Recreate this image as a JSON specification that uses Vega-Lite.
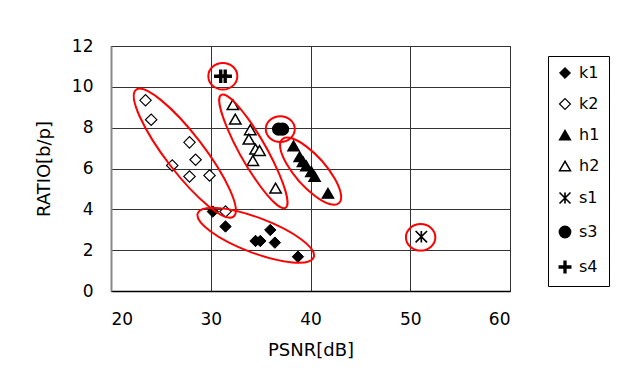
{
  "$schema": "https://vega.github.io/schema/vega-lite/v6.json",
  "width": 399,
  "height": 245,
  "autosize": "none",
  "padding": {"left": 111, "top": 46, "right": 110, "bottom": 100},
  "background": "white",
  "datasets": {
    "pts": [
      {"series": "k1", "psnr": 30.21, "ratio": 3.89},
      {"series": "k1", "psnr": 31.48, "ratio": 3.16},
      {"series": "k1", "psnr": 34.49, "ratio": 2.45},
      {"series": "k1", "psnr": 34.97, "ratio": 2.45},
      {"series": "k1", "psnr": 35.97, "ratio": 2.99},
      {"series": "k1", "psnr": 36.43, "ratio": 2.37},
      {"series": "k1", "psnr": 38.74, "ratio": 1.68},
      {"series": "k2", "psnr": 23.46, "ratio": 9.34},
      {"series": "k2", "psnr": 24.03, "ratio": 8.39},
      {"series": "k2", "psnr": 27.87, "ratio": 7.28},
      {"series": "k2", "psnr": 28.48, "ratio": 6.43},
      {"series": "k2", "psnr": 26.14, "ratio": 6.15},
      {"series": "k2", "psnr": 27.87, "ratio": 5.61},
      {"series": "k2", "psnr": 29.88, "ratio": 5.66},
      {"series": "k2", "psnr": 31.48, "ratio": 3.89},
      {"series": "h1", "psnr": 38.30, "ratio": 7.11},
      {"series": "h1", "psnr": 38.91, "ratio": 6.58},
      {"series": "h1", "psnr": 39.24, "ratio": 6.34},
      {"series": "h1", "psnr": 39.58, "ratio": 6.13},
      {"series": "h1", "psnr": 40.08, "ratio": 5.85},
      {"series": "h1", "psnr": 40.41, "ratio": 5.61},
      {"series": "h1", "psnr": 41.75, "ratio": 4.79},
      {"series": "h2", "psnr": 32.22, "ratio": 9.13},
      {"series": "h2", "psnr": 32.46, "ratio": 8.42},
      {"series": "h2", "psnr": 33.96, "ratio": 7.90},
      {"series": "h2", "psnr": 33.82, "ratio": 7.44},
      {"series": "h2", "psnr": 34.49, "ratio": 6.95},
      {"series": "h2", "psnr": 34.89, "ratio": 6.88},
      {"series": "h2", "psnr": 34.22, "ratio": 6.39},
      {"series": "h2", "psnr": 36.50, "ratio": 5.04},
      {"series": "s1", "psnr": 51.11, "ratio": 2.66},
      {"series": "s3", "psnr": 36.8, "ratio": 7.93},
      {"series": "s3", "psnr": 37.2, "ratio": 7.93},
      {"series": "s4", "psnr": 31.0, "ratio": 10.52},
      {"series": "s4", "psnr": 31.45, "ratio": 10.52}
    ],
    "ell": [
      {"id": "E1", "psnr": 27.40, "ratio": 6.75},
      {"id": "E2", "psnr": 34.51, "ratio": 2.73},
      {"id": "E3", "psnr": 34.27, "ratio": 6.84},
      {"id": "E4", "psnr": 40.01, "ratio": 5.87},
      {"id": "E5", "psnr": 36.97, "ratio": 7.93},
      {"id": "E6", "psnr": 31.21, "ratio": 10.52},
      {"id": "E7", "psnr": 51.04, "ratio": 2.63}
    ]
  },
  "layer": [
    {
      "data": {"name": "pts"},
      "mark": {"type": "point", "filled": true, "size": 130, "opacity": 1},
      "encoding": {
        "x": {
          "field": "psnr", "type": "quantitative",
          "scale": {"domain": [20, 60], "nice": false, "zero": false},
          "axis": {
            "values": [20, 30, 40, 50, 60],
            "title": "PSNR[dB]",
            "ticks": false,
            "grid": true, "gridColor": "#333", "gridOpacity": 1, "gridWidth": 1,
            "domainColor": "#000", "domainWidth": 1.5,
            "labelFontSize": 17, "labelColor": "#000", "labelPadding": 20,
            "titleFontSize": 18, "titleFontWeight": "normal", "titleColor": "#000", "titlePadding": 14
          }
        },
        "y": {
          "field": "ratio", "type": "quantitative",
          "scale": {"domain": [0, 12], "nice": false},
          "axis": {
            "values": [0, 2, 4, 6, 8, 10, 12],
            "title": "RATIO[b/p]",
            "ticks": false,
            "grid": true, "gridColor": "#333", "gridOpacity": 1, "gridWidth": 1,
            "domainColor": "#888", "domainWidth": 2,
            "labelFontSize": 17, "labelColor": "#000", "labelPadding": 18,
            "titleFontSize": 18, "titleFontWeight": "normal", "titleColor": "#000", "titlePadding": 18
          }
        },
        "shape": {
          "field": "series", "type": "nominal",
          "scale": {
            "domain": ["k1", "k2", "h1", "h2", "s1", "s3", "s4"],
            "range": ["diamond", "diamond", "triangle-up", "triangle-up", "M -1 -1 L 1 1 M -1 1 L 1 -1 M 0 -1 L 0 1", "circle", "M -1 -0.12 L -0.12 -0.12 L -0.12 -1 L 0.12 -1 L 0.12 -0.12 L 1 -0.12 L 1 0.12 L 0.12 0.12 L 0.12 1 L -0.12 1 L -0.12 0.12 L -1 0.12 Z"]
          },
          "legend": {"title": null}
        },
        "fill": {
          "field": "series", "type": "nominal",
          "scale": {
            "domain": ["k1", "k2", "h1", "h2", "s1", "s3", "s4"],
            "range": ["black", "white", "black", "white", "black", "black", "black"]
          },
          "legend": {"title": null}
        },
        "stroke": {
          "field": "series", "type": "nominal",
          "scale": {
            "domain": ["k1", "k2", "h1", "h2", "s1", "s3", "s4"],
            "range": ["black", "black", "black", "black", "black", "black", "black"]
          },
          "legend": {"title": null}
        },
        "strokeWidth": {
          "field": "series", "type": "nominal",
          "scale": {
            "domain": ["k1", "k2", "h1", "h2", "s1", "s3", "s4"],
            "range": [1, 2, 1, 2, 3, 1, 3]
          },
          "legend": null
        }
      }
    },
    {
      "data": {"name": "ell"},
      "mark": {"type": "point", "filled": false, "stroke": "#ff0000", "strokeWidth": 2, "size": 4, "opacity": 1},
      "encoding": {
        "x": {"field": "psnr", "type": "quantitative"},
        "y": {"field": "ratio", "type": "quantitative"},
        "shape": {
          "field": "id", "type": "nominal",
          "scale": {
            "domain": ["E1", "E2", "E3", "E4", "E5", "E6", "E7"],
            "range": [
              "M -48.7 -63.47 A 80 19 52.5 1 1 48.7 63.47 A 80 19 52.5 1 1 -48.7 -63.47 Z",
              "M -57.96 -22.02 A 62 17.5 20.8 1 1 57.96 22.02 A 62 17.5 20.8 1 1 -57.96 -22.02 Z",
              "M -32.1 -56.52 A 65 13 60.4 1 1 32.1 56.52 A 65 13 60.4 1 1 -32.1 -56.52 Z",
              "M -28.29 -31.98 A 42.7 15 48.5 1 1 28.29 31.98 A 42.7 15 48.5 1 1 -28.29 -31.98 Z",
              "M -14.5 0 A 14.5 12.8 0 1 1 14.5 0 A 14.5 12.8 0 1 1 -14.5 0 Z",
              "M -14.5 0 A 14.5 13.3 0 1 1 14.5 0 A 14.5 13.3 0 1 1 -14.5 0 Z",
              "M -14.7 0 A 14.7 13.3 0 1 1 14.7 0 A 14.7 13.3 0 1 1 -14.7 0 Z"
            ]
          },
          "legend": null
        }
      }
    }
  ],
  "resolve": {"scale": {"shape": "independent", "fill": "independent", "stroke": "independent", "strokeWidth": "independent"}, "legend": {"shape": "independent", "fill": "independent", "stroke": "independent"}},
  "config": {
    "font": "DejaVu Sans",
    "view": {"stroke": "#000", "strokeWidth": 1},
    "legend": {
      "orient": "none",
      "legendX": 437,
      "legendY": 10,
      "strokeColor": "#000",
      "fillColor": "white",
      "padding": 9,
      "rowPadding": 15,
      "labelFontSize": 16,
      "labelColor": "#000",
      "labelOffset": 6,
      "symbolSize": 120,
      "symbolStrokeWidth": 1.5,
      "cornerRadius": 0
    }
  }
}
